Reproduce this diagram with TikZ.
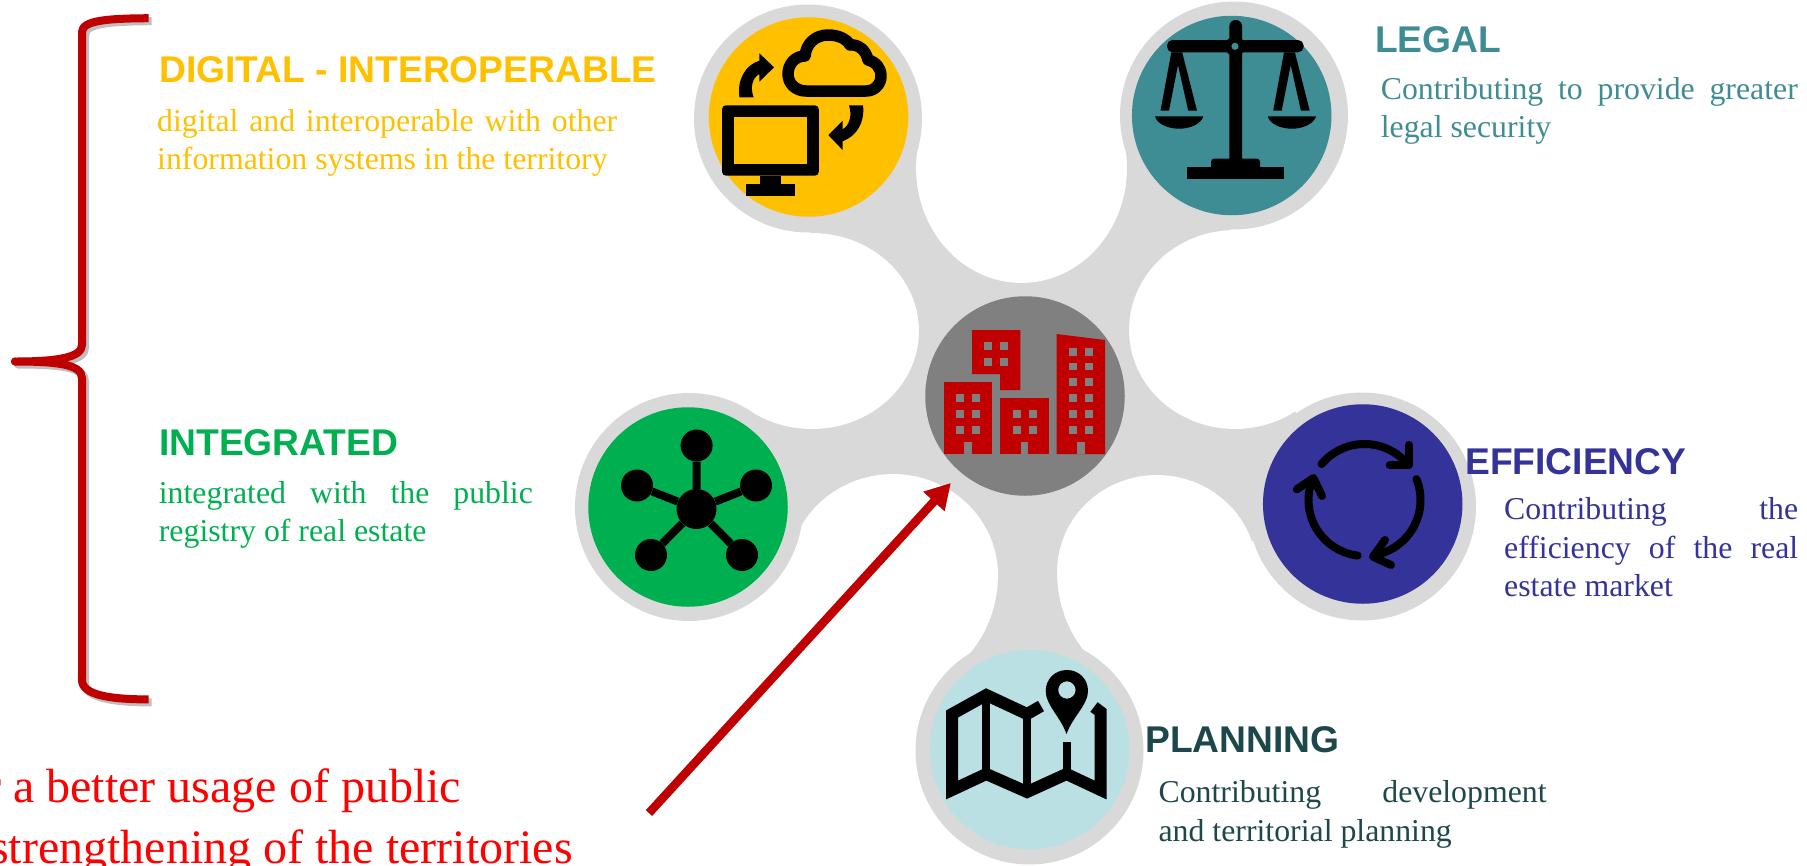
\documentclass[tikz,border=0pt]{standalone}
\usepackage{fontspec}
\setmainfont{Liberation Serif}
\newfontfamily\headfont{Liberation Sans}[BoldFont={Liberation Sans Bold}]
\usetikzlibrary{arrows.meta}
\definecolor{cyellow}{HTML}{FFC000}
\definecolor{cteal}{HTML}{3E8C94}
\definecolor{cgreen}{HTML}{00B050}
\definecolor{cblue}{HTML}{333399}
\definecolor{clight}{HTML}{BAE0E4}
\definecolor{cdark}{HTML}{1E474B}
\definecolor{chalo}{HTML}{D9D9D9}
\definecolor{ccentre}{HTML}{808080}
\definecolor{cdred}{HTML}{C00000}
\definecolor{ctred}{HTML}{FF0000}
\tikzset{
  halo/.style={circle,inner sep=0pt,minimum size=228pt,fill=chalo},
  disc/.style={circle,inner sep=0pt,minimum size=199.5pt},
  headtext/.style={anchor=base west,inner sep=0pt,font=\headfont\bfseries\fontsize{37.2}{40}\selectfont},
  bodytext/.style={anchor=north west,inner sep=0pt,align=left,font=\fontsize{31.8}{38.5}\selectfont},
  bigtext/.style={anchor=base west,inner sep=0pt,text=ctred,font=\fontsize{48}{60}\selectfont},
  hubdot/.style={circle,fill=black,inner sep=0pt},
  spoke/.style={draw=black,line width=8pt},
  bracestroke/.style={line width=8pt,line join=round},
  cyclestroke/.style={draw=black,line width=8pt,line cap=round,line join=round},
}
\newcommand{\cutout}[5]{\fill[white] plot[domain=0:180,samples=40] ({#1+#3*cos(\x)},{#2-#4*sin(\x)}) -- plot[domain=180:360,samples=40] ({#1+#3*cos(\x)},{#2-#5*sin(\x)}) -- cycle;}
\newcommand{\firstline}{\rule{0pt}{30pt}}
\begin{document}
\begin{tikzpicture}[x=1pt,y=-1pt]
\useasboundingbox (0,0) rectangle (1807,865);
% connecting body
\fill[chalo] (920,140) -- (1123,143) -- (1231,230) -- (1296,413) -- (1254,540) -- (1098,658)
  -- (961,660) -- (797.6,540) -- (756,413) -- (810,233) -- cycle;
\cutout{1021.5}{168}{105.5}{115}{115}
\cutout{812}{331}{107}{98}{98}
\cutout{1235}{330}{106}{100}{99}
\cutout{893}{575}{105}{101}{115}
\cutout{1157}{572}{100}{97}{115}
% halos
\node[halo] (haloA) at (808,118.5) {};
\node[halo] (haloB) at (1234,115.5) {};
\node[halo] (haloC) at (1362,506.5) {};
\node[halo] (haloD) at (1029.5,750.5) {};
\node[halo] (haloE) at (689,507) {};
% discs
\node[disc,fill=cyellow] (discA) at (808.6,117) {};
\node[disc,fill=cteal] (discB) at (1231.7,115.5) {};
\node[disc,fill=cblue] (discC) at (1362.7,504) {};
\node[disc,fill=clight] (discD) at (1029.6,749.5) {};
\node[disc,fill=cgreen] (discE) at (688,507) {};
\node[disc,fill=ccentre] (discM) at (1025,396) {};
% buildings
\fill[cdred] (972,330) -- (1020.4,330) -- (1020.4,390) -- (1000,390) -- (1000,374) -- (972,374) -- cycle;
\fill[cdred] (944,381.7) rectangle (992,454);
\fill[cdred] (1000,397.7) rectangle (1049,454);
\fill[cdred] (1056.5,334) -- (1105,340) -- (1105,454) -- (1056.5,454) -- cycle;
\foreach \wx in {984.4,1000} \foreach \wy in {342.3,358.3} \fill[ccentre] (\wx,\wy) rectangle +(7.8,7.6);
\foreach \wx in {956.4,972} \foreach \wy in {394,410,426} \fill[ccentre] (\wx,\wy) rectangle +(7.8,7.6);
\foreach \wx in {1012.7,1028.8} \foreach \wy in {410,426} \fill[ccentre] (\wx,\wy) rectangle +(7.8,7.6);
\foreach \wx in {1069,1085} \foreach \wy in {348,362.5,378,394,410,426} \fill[ccentre] (\wx,\wy) rectangle +(7.8,7.6);
\fill[ccentre] (964,441.7) rectangle (972,454);
\fill[ccentre] (1021,441.7) rectangle (1028.3,454);
\fill[ccentre] (1077.3,441.7) rectangle (1084.7,454);
% monitor and cloud
\fill[black,rounded corners=4pt] (722,105.3) rectangle (818.8,175.7);
\fill[cyellow] (734.2,117.3) rectangle (806.6,163.7);
\fill[black] (760,175.7) rectangle (780.6,184);
\fill[black] (746,183.7) rectangle (794.5,195.7);
\draw[black,line width=11.5pt,line join=round] (806,91) -- (866,91) .. controls (875,91) and (881,84) .. (881,76)
  .. controls (881,68) and (876,62) .. (868,60) .. controls (866,50) and (858,44) .. (850,45)
  .. controls (846,38) and (837,35) .. (828,35) .. controls (815,35) and (806,44) .. (805,56)
  .. controls (795,56) and (788,64) .. (788,74) .. controls (788,84) and (796,91) .. (806,91) -- cycle;
\fill[black] (739.4,97.3) .. controls (737,80) and (745,65) .. (759.4,60.7) -- (759.4,53.3) -- (774,67.3)
  -- (759.4,81.7) -- (759.4,74) .. controls (752,78) and (750,88) .. (753.7,97.3) -- cycle;
\fill[black] (863,105.3) .. controls (865,122) and (857,136) .. (842.6,141.3) -- (842.6,150) -- (828.3,135)
  -- (842.6,120.7) -- (842.6,129.3) .. controls (850,125) and (852,115) .. (849,105.3) -- cycle;
% scales
\fill[black,rounded corners=6pt] (1229.4,20) rectangle (1242,165);
\fill[black,rounded corners=5.5pt] (1167,40) rectangle (1303.6,52.3);
\fill[black] (1235,46.3) circle[radius=10];
\fill[cteal] (1235,46.3) circle[radius=3.6];
\fill[black] (1187,166.7) rectangle (1284,179);
\fill[black,rounded corners=3pt] (1211,158.7) rectangle (1260,170);
\foreach \dx in {0,112.7}{
  \fill[black] (\dx+1171.3,52.3) -- (\dx+1160.5,110.7) -- (\dx+1169,110.7) -- (\dx+1178,65)
    -- (\dx+1188.2,110.7) -- (\dx+1197,110.7) -- (\dx+1182.2,52.3) -- cycle;
  \fill[black] (\dx+1155,116.3) -- (\dx+1203.4,116.3) .. controls (\dx+1201,124) and (\dx+1190,128.7) .. (\dx+1179.2,128.7)
    .. controls (\dx+1168,128.7) and (\dx+1157,124) .. (\dx+1155,116.3) -- cycle;
}
% cycle arrows
\draw[cyclestroke] plot[domain=140:43,samples=30] ({1364.5+56*cos(\x)},{500-56*sin(\x)});
\draw[cyclestroke] (1409,445) -- (1409,465) -- (1389.7,465);
\draw[cyclestroke] plot[domain=22:-78,samples=30] ({1364.5+56*cos(\x)},{500-56*sin(\x)});
\draw[cyclestroke] (1385,540) -- (1373,556.7) -- (1391,565);
\draw[cyclestroke] plot[domain=-97:-202,samples=30] ({1364.5+56*cos(\x)},{500-56*sin(\x)});
\draw[cyclestroke] (1296.8,489.3) -- (1313.4,478) -- (1322,496);
% map
\draw[black,line width=12pt,miter limit=10] (1041,706) -- (1027,714) -- (986.3,695) -- (952,714) -- (952,790)
  -- (986.3,774) -- (1027,792) -- (1066.5,774) -- (1100.6,790) -- (1100.6,712) -- (1094,707);
\fill[black] (982,695) rectangle (990,777);
\fill[black] (1023,716) rectangle (1030.5,795);
\fill[black] (1063,741.7) rectangle (1071,775);
\fill[black,even odd rule] (1066.5,734) .. controls (1060,716) and (1045.7,705) .. (1045.7,691)
  .. controls (1045.7,679) and (1055,670) .. (1066.9,670) .. controls (1079,670) and (1088,679) .. (1088,691)
  .. controls (1088,705) and (1073,716) .. (1066.5,734) -- cycle (1066.9,690) circle[radius=8.7];
% network
\node[hubdot,minimum size=40pt] (hub) at (696.5,509) {};
\node[hubdot,minimum size=32pt] (leafA) at (696.6,445.5) {};
\node[hubdot,minimum size=32pt] (leafB) at (637,485.5) {};
\node[hubdot,minimum size=32pt] (leafC) at (756,485.5) {};
\node[hubdot,minimum size=32pt] (leafD) at (651,555) {};
\node[hubdot,minimum size=32pt] (leafE) at (742,555) {};
\draw[spoke] (hub) -- (leafA);
\draw[spoke] (hub) -- (leafB);
\draw[spoke] (hub) -- (leafC);
\draw[spoke] (hub) -- (leafD);
\draw[spoke] (hub) -- (leafE);
% brace
\foreach \ox/\oy/\col/\op in {3/3/black/0.25,0/0/cdred/1}{
  \draw[bracestroke,draw=\col,opacity=\op,xshift=\ox,yshift=-\oy]
    (148.7,18.2) .. controls (110,18.5) and (82,20) .. (82,32) -- (82,345)
    .. controls (82,358) and (55,361.5) .. (15,361.5) .. controls (55,361.5) and (82,364) .. (82,378)
    -- (82,680) .. controls (82,695) and (110,699.4) .. (148.7,699.4);
}
\fill[cdred] (15,361.5) circle[radius=4];
% arrow
\coordinate (arrowstart) at (649,813);
\coordinate (arrowtip) at (950.8,483);
\draw[black,opacity=0.25,line width=8.5pt,-{Triangle[length=25pt,width=27pt]},xshift=3,yshift=-3] (arrowstart) -- (arrowtip);
\draw[cdred,line width=8.5pt,-{Triangle[length=25pt,width=27pt]}] (arrowstart) -- (arrowtip);
% texts
\node[headtext,text=cyellow] (tA) at (159,82.7) {DIGITAL - INTEROPERABLE};
\node[bodytext,text=cyellow] (bA) at (157,101) {\firstline\makebox[460pt][s]{digital and interoperable with other}\\information systems in the territory};
\node[headtext,text=cgreen] (tE) at (159,455) {INTEGRATED};
\node[bodytext,text=cgreen] (bE) at (158.7,473) {\firstline\makebox[374pt][s]{integrated with the public}\\registry of real estate};
\node[headtext,text=cteal] (tB) at (1375,52) {LEGAL};
\node[bodytext,text=cteal] (bB) at (1380.6,69) {\firstline\makebox[417pt][s]{Contributing to provide greater}\\legal security};
\node[headtext,text=cblue] (tC) at (1465,474) {EFFICIENCY};
\node[bodytext,text=cblue] (bC) at (1504,489.5) {\firstline\makebox[294pt][s]{Contributing the}\\\makebox[294pt][s]{efficiency of the real}\\estate market};
\node[headtext,text=cdark] (tD) at (1145,752.7) {PLANNING};
\node[bodytext,text=cdark] (bD) at (1158.4,772.5) {\firstline\makebox[388pt][s]{Contributing development}\\and territorial planning};
\node[bigtext] (lineA) at (-15,802.6) {r a better usage of public};
\node[bigtext] (lineB) at (-10,863) {strengthening of the territories};
\end{tikzpicture}
\end{document}
